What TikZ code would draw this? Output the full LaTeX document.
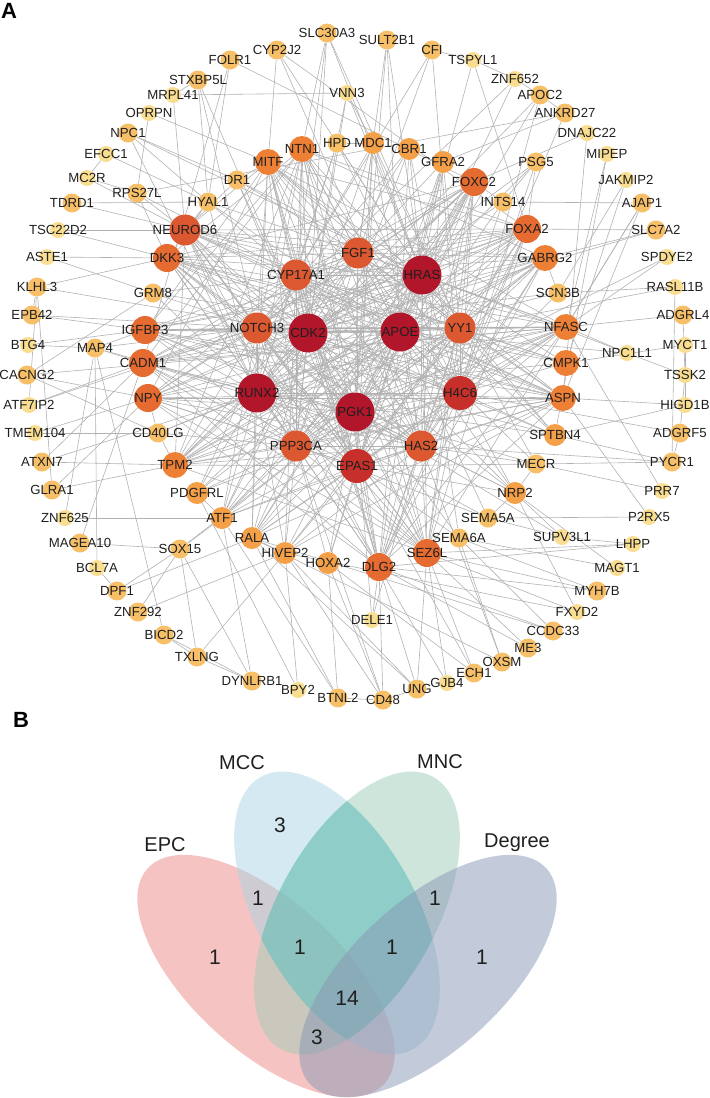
\documentclass[tikz,border=0pt]{standalone}
\usepackage{fontspec}
\setmainfont{Liberation Sans}
\usetikzlibrary{backgrounds}

\definecolor{hubA}{RGB}{178,22,42}
\definecolor{hubB}{RGB}{199,48,42}
\definecolor{hubC}{RGB}{220,88,48}
\definecolor{hubD}{RGB}{230,107,49}
\definecolor{hubE}{RGB}{238,128,54}
\definecolor{hubF}{RGB}{244,160,72}
\definecolor{hubG}{RGB}{247,192,104}
\definecolor{hubH}{RGB}{249,221,144}
\definecolor{epcC}{RGB}{236,138,134}
\definecolor{mccC}{RGB}{169,211,227}
\definecolor{mncC}{RGB}{158,203,185}
\definecolor{degC}{RGB}{136,150,180}
\definecolor{tealC}{RGB}{63,184,176}

\tikzset{
  gene/.style={circle, inner sep=0pt, draw=none},
  lvA/.style={gene, minimum size=19.5pt, fill=hubA},
  lvB/.style={gene, minimum size=17pt, fill=hubB},
  lvC/.style={gene, minimum size=15.5pt, fill=hubC},
  lvD/.style={gene, minimum size=14pt, fill=hubD},
  lvE/.style={gene, minimum size=13pt, fill=hubE},
  lvF/.style={gene, minimum size=11pt, fill=hubF},
  lvG/.style={gene, minimum size=9.5pt, fill=hubG},
  lvH/.style={gene, minimum size=8pt, fill=hubH},
  lbl/.style={font=\fontsize{6.6}{7}\selectfont, text=black!88, inner sep=0pt},
  ppi/.style={draw=black!30, line width=0.3pt},
  venn/.style={draw=none, fill opacity=0.5},
  vlbl/.style={font=\fontsize{10}{12}\selectfont, text=black!88},
  vnum/.style={font=\fontsize{10.5}{12}\selectfont, text=black!88},
  panel/.style={font=\bfseries\fontsize{11}{13}\selectfont}
}
% one gene: style, name, x, y (pixel grid)
\newcommand{\gnode}[4]{\node[#1, label={[lbl]center:#2}] (#2) at (#3,#4) {};}

\begin{document}
\begin{tikzpicture}[x=0.5pt, y=-0.5pt]
\useasboundingbox (0,0) rectangle (709,1098);

\node[panel] (panelA) at (9,11) {A};
\node[panel] (panelB) at (21,720) {B};

% inner hubs
\gnode{lvA}{CDK2}{308}{333}
\gnode{lvA}{APOE}{400}{332}
\gnode{lvA}{HRAS}{422}{275}
\gnode{lvA}{PGK1}{355}{412}
\gnode{lvA}{RUNX2}{257}{393}
\gnode{lvB}{EPAS1}{357}{466}
\gnode{lvB}{H4C6}{460}{393}
\gnode{lvC}{FGF1}{358}{253}
\gnode{lvC}{CYP17A1}{296}{275}
\gnode{lvC}{NOTCH3}{257}{328}
\gnode{lvC}{YY1}{460}{328}
\gnode{lvC}{PPP3CA}{296}{446}
\gnode{lvC}{HAS2}{421}{446}

% middle ring
\gnode{lvC}{NEUROD6}{185}{230}
\gnode{lvD}{DKK3}{167}{258}
\gnode{lvD}{IGFBP3}{145}{330}
\gnode{lvD}{CADM1}{143}{363}
\gnode{lvD}{NPY}{148}{398}
\gnode{lvD}{FOXC2}{474}{182}
\gnode{lvD}{FOXA2}{527}{229}
\gnode{lvD}{DLG2}{379}{567}
\gnode{lvD}{SEZ6L}{427}{553}
\gnode{lvE}{MITF}{268}{162}
\gnode{lvE}{NTN1}{302}{149}
\gnode{lvE}{GABRG2}{545}{258}
\gnode{lvE}{NFASC}{566}{327}
\gnode{lvE}{CMPK1}{566}{363}
\gnode{lvE}{ASPN}{563}{398}
\gnode{lvE}{TPM2}{175}{465}
\gnode{lvF}{MDC1}{373}{143}
\gnode{lvF}{CBR1}{409}{149}
\gnode{lvF}{GFRA2}{443}{162}
\gnode{lvF}{RALA}{252}{538}
\gnode{lvF}{HIVEP2}{285}{553}
\gnode{lvF}{HOXA2}{328}{563}
\gnode{lvF}{PDGFRL}{197}{493}
\gnode{lvF}{ATF1}{222}{518}
\gnode{lvF}{SPTBN4}{555}{435}
\gnode{lvF}{NRP2}{515}{493}
\gnode{lvG}{HPD}{337}{143}
\gnode{lvG}{DR1}{237}{180}
\gnode{lvG}{HYAL1}{208}{202}
\gnode{lvG}{RPS27L}{137}{193}
\gnode{lvG}{GRM8}{153}{293}
\gnode{lvG}{PSG5}{536}{162}
\gnode{lvG}{INTS14}{503}{202}
\gnode{lvG}{SCN3B}{558}{293}
\gnode{lvG}{MECR}{536}{464}
\gnode{lvG}{SEMA5A}{488}{518}
\gnode{lvG}{SEMA6A}{459}{538}
\gnode{lvG}{CD40LG}{158}{433}
\gnode{lvG}{MAP4}{95}{348}
\gnode{lvG}{SOX15}{180}{549}
\gnode{lvH}{VNN3}{347}{93}
\gnode{lvH}{NPC1L1}{627}{353}
\gnode{lvH}{SUPV3L1}{562}{537}
\gnode{lvH}{DELE1}{372}{620}

% outer ring
\gnode{lvG}{FOLR1}{230}{60}
\gnode{lvG}{CYP2J2}{277}{50}
\gnode{lvG}{SLC30A3}{327}{33}
\gnode{lvG}{SULT2B1}{387}{40}
\gnode{lvG}{CFI}{432}{50}
\gnode{lvH}{TSPYL1}{473}{60}
\gnode{lvH}{ZNF652}{515}{79}
\gnode{lvG}{APOC2}{540}{95}
\gnode{lvG}{ANKRD27}{565}{113}
\gnode{lvH}{DNAJC22}{587}{133}
\gnode{lvH}{MIPEP}{607}{154}
\gnode{lvH}{JAKMIP2}{626}{180}
\gnode{lvG}{AJAP1}{642}{203}
\gnode{lvG}{SLC7A2}{656}{230}
\gnode{lvH}{SPDYE2}{667}{257}
\gnode{lvH}{RASL11B}{675}{287}
\gnode{lvG}{ADGRL4}{683}{315}
\gnode{lvH}{MYCT1}{685}{345}
\gnode{lvH}{TSSK2}{685}{375}
\gnode{lvH}{HIGD1B}{685}{405}
\gnode{lvG}{ADGRF5}{680}{433}
\gnode{lvG}{PYCR1}{672}{462}
\gnode{lvH}{PRR7}{662}{491}
\gnode{lvH}{P2RX5}{649}{517}
\gnode{lvH}{LHPP}{633}{544}
\gnode{lvH}{MAGT1}{617}{568}
\gnode{lvG}{MYH7B}{597}{591}
\gnode{lvH}{FXYD2}{577}{612}
\gnode{lvG}{CCDC33}{553}{631}
\gnode{lvG}{ME3}{528}{648}
\gnode{lvG}{OXSM}{502}{662}
\gnode{lvG}{ECH1}{474}{673}
\gnode{lvH}{GJB4}{447}{683}
\gnode{lvG}{UNG}{417}{689}
\gnode{lvG}{CD48}{383}{700}
\gnode{lvG}{BTNL2}{338}{698}
\gnode{lvH}{BPY2}{298}{690}
\gnode{lvG}{DYNLRB1}{252}{681}
\gnode{lvG}{TXLNG}{197}{657}
\gnode{lvG}{BICD2}{164}{635}
\gnode{lvG}{ZNF292}{138}{612}
\gnode{lvG}{DPF1}{117}{591}
\gnode{lvH}{BCL7A}{97}{568}
\gnode{lvG}{MAGEA10}{80}{543}
\gnode{lvH}{ZNF625}{65}{518}
\gnode{lvG}{GLRA1}{52}{490}
\gnode{lvG}{ATXN7}{42}{462}
\gnode{lvH}{TMEM104}{35}{433}
\gnode{lvH}{ATF7IP2}{29}{405}
\gnode{lvG}{CACNG2}{27}{375}
\gnode{lvH}{BTG4}{28}{345}
\gnode{lvG}{EPB42}{32}{315}
\gnode{lvG}{KLHL3}{37}{287}
\gnode{lvH}{ASTE1}{47}{257}
\gnode{lvH}{TSC22D2}{58}{230}
\gnode{lvG}{TDRD1}{72}{203}
\gnode{lvH}{MC2R}{87}{178}
\gnode{lvH}{EFCC1}{106}{154}
\gnode{lvG}{NPC1}{128}{133}
\gnode{lvH}{OPRPN}{149}{113}
\gnode{lvH}{MRPL41}{173}{95}
\gnode{lvG}{STXBP5L}{198}{80}

\begin{scope}[on background layer]
  % hubs all linked to each other
  \foreach \a [count=\i] in {CDK2,APOE,HRAS,PGK1,RUNX2,EPAS1,H4C6,FGF1,CYP17A1,NOTCH3,YY1,PPP3CA,HAS2} {
    \foreach \b [count=\j] in {CDK2,APOE,HRAS,PGK1,RUNX2,EPAS1,H4C6,FGF1,CYP17A1,NOTCH3,YY1,PPP3CA,HAS2} {
      \ifnum\j>\i \draw[ppi] (\a) -- (\b); \fi
    }
  }
  % hubs to the middle ring
  \foreach \a/\bs in {
    CDK2/{MITF,NTN1,MDC1,FOXC2,FOXA2,GABRG2,NFASC,ASPN,SPTBN4,NRP2,SEZ6L,DLG2,HIVEP2,RALA,ATF1,TPM2,NPY,CADM1,IGFBP3,DKK3,NEUROD6,DR1,HPD,PSG5,INTS14,SEMA6A},
    APOE/{MITF,NTN1,CBR1,GFRA2,FOXC2,FOXA2,GABRG2,SCN3B,CMPK1,ASPN,MECR,NRP2,SEMA5A,DLG2,HOXA2,HIVEP2,ATF1,PDGFRL,TPM2,CD40LG,NPY,CADM1,IGFBP3,GRM8,DKK3,NEUROD6,HYAL1},
    HRAS/{VNN3,HPD,MDC1,CBR1,GFRA2,FOXC2,PSG5,FOXA2,NFASC,CMPK1,SPTBN4,SEZ6L,SEMA6A,DLG2,RALA,PDGFRL,NPY,IGFBP3,DKK3,NEUROD6,MITF,DR1},
    PGK1/{NTN1,MDC1,GFRA2,FOXC2,INTS14,GABRG2,NFASC,ASPN,MECR,NRP2,SUPV3L1,SEZ6L,DLG2,DELE1,HOXA2,RALA,SOX15,ATF1,TPM2,NPY,CADM1,IGFBP3,DKK3,NEUROD6},
    RUNX2/{MITF,NTN1,HPD,CBR1,FOXC2,FOXA2,GABRG2,NFASC,CMPK1,ASPN,SPTBN4,SEMA5A,SEZ6L,HIVEP2,RALA,ATF1,PDGFRL,TPM2,CD40LG,CADM1,IGFBP3,GRM8,NEUROD6,HYAL1,MAP4},
    EPAS1/{MITF,MDC1,GFRA2,FOXC2,FOXA2,NFASC,ASPN,MECR,NRP2,SEMA6A,DLG2,HOXA2,HIVEP2,RALA,ATF1,TPM2,NPY,CADM1,DKK3,NEUROD6,DR1},
    H4C6/{NTN1,HPD,CBR1,FOXC2,PSG5,FOXA2,GABRG2,SCN3B,NFASC,CMPK1,SPTBN4,NRP2,SEZ6L,DLG2,RALA,PDGFRL,NPY,IGFBP3,DKK3},
    FGF1/{MITF,NTN1,MDC1,GFRA2,FOXC2,FOXA2,GABRG2,NFASC,ASPN,SPTBN4,SEZ6L,ATF1,TPM2,CADM1,IGFBP3,DKK3,NEUROD6,HYAL1,DR1},
    CYP17A1/{MITF,NTN1,HPD,MDC1,FOXC2,FOXA2,GABRG2,CMPK1,ASPN,NRP2,DLG2,HIVEP2,PDGFRL,NPY,CADM1,GRM8,NEUROD6,HYAL1,RPS27L},
    NOTCH3/{MITF,NTN1,CBR1,FOXC2,FOXA2,NFASC,ASPN,SEZ6L,DLG2,RALA,ATF1,TPM2,NPY,CADM1,IGFBP3,DKK3,NEUROD6,GRM8,MAP4,SCN3B},
    YY1/{MITF,NTN1,MDC1,GFRA2,FOXC2,FOXA2,GABRG2,NFASC,ASPN,CMPK1,SPTBN4,MECR,SEZ6L,DLG2,HIVEP2,TPM2,IGFBP3,DKK3,NEUROD6,INTS14},
    PPP3CA/{MITF,NTN1,FOXC2,FOXA2,GABRG2,NFASC,ASPN,SEMA5A,SEZ6L,DLG2,HOXA2,RALA,ATF1,PDGFRL,TPM2,CD40LG,NPY,CADM1,IGFBP3,DKK3,NEUROD6,CBR1},
    HAS2/{MITF,NTN1,MDC1,FOXC2,FOXA2,GABRG2,NFASC,ASPN,MECR,NRP2,SEZ6L,DLG2,HIVEP2,ATF1,TPM2,NPY,CADM1,IGFBP3,DKK3,NEUROD6,GFRA2}%
  } {\foreach \b in \bs {\draw[ppi] (\a) -- (\b);}}
  % middle ring among itself
  \foreach \a/\bs in {
    NEUROD6/{MITF,FOXA2,GABRG2,NFASC,ASPN,TPM2,SEZ6L,DLG2,RPS27L,DR1,HYAL1},
    DKK3/{FOXC2,FOXA2,NFASC,CMPK1,ASPN,SEZ6L,DLG2,NTN1,RPS27L,HYAL1},
    IGFBP3/{FOXA2,NFASC,ASPN,SPTBN4,GABRG2,NTN1,MITF,MAP4},
    CADM1/{FOXA2,NFASC,GABRG2,SEZ6L,DLG2,NTN1,MAP4},
    NPY/{FOXC2,NFASC,ASPN,DLG2,SEZ6L,MITF,CD40LG},
    FOXA2/{TPM2,SEZ6L,DLG2,MITF,NTN1,PSG5},
    FOXC2/{TPM2,DLG2,SEZ6L,ATF1,RALA,INTS14},
    MITF/{DLG2,SEZ6L,ASPN,NFASC,DR1},
    NTN1/{DLG2,SEZ6L,TPM2,GABRG2},
    GABRG2/{TPM2,DLG2,RALA,SCN3B},
    NFASC/{TPM2,DLG2,ATF1,NPC1L1},
    TPM2/{SEZ6L,ASPN,CD40LG},
    ASPN/{DLG2,RALA,HIVEP2},
    VNN3/{HPD,MDC1,CDK2},
    HPD/{MDC1},
    PDGFRL/{ATF1},
    RALA/{HIVEP2},
    SOX15/{ATF1},
    SUPV3L1/{SEMA5A,NRP2},
    SEMA5A/{NRP2},
    DELE1/{DLG2,HAS2},
    NPC1L1/{HRAS,APOE},
    PSG5/{INTS14},
    MECR/{NRP2}%
  } {\foreach \b in \bs {\draw[ppi] (\a) -- (\b);}}
  % outer ring
  \foreach \a/\bs in {
    FOLR1/{HYAL1,FOXC2,CADM1},
    CYP2J2/{APOE,MITF,FOXA2,HRAS},
    SLC30A3/{HRAS,YY1,NTN1,CYP17A1,CDK2},
    SULT2B1/{HRAS,APOE,PGK1,FGF1},
    CFI/{TSPYL1,FGF1,CYP17A1,H4C6},
    TSPYL1/{ZNF652,APOE,FOXA2},
    ZNF652/{APOC2,HRAS,NOTCH3},
    APOC2/{ANKRD27,APOE,H4C6,CDK2},
    ANKRD27/{RPS27L,GFRA2,HAS2},
    DNAJC22/{ASPN,FOXC2},
    MIPEP/{NFASC,SPTBN4},
    JAKMIP2/{CMPK1,SCN3B},
    AJAP1/{NFASC,ASPN,INTS14,SEZ6L},
    SLC7A2/{GABRG2,CDK2,FOXA2},
    SPDYE2/{NFASC,PGK1},
    RASL11B/{SCN3B,PYCR1,YY1},
    ADGRL4/{TSSK2,NFASC},
    MYCT1/{HIGD1B,CMPK1},
    TSSK2/{ADGRF5,NPC1L1},
    HIGD1B/{ASPN,SPTBN4},
    ADGRF5/{PYCR1,H4C6},
    PYCR1/{SPTBN4,MECR,HAS2},
    PRR7/{MECR,NFASC},
    P2RX5/{ASPN,SEMA5A},
    LHPP/{SEZ6L,SUPV3L1,DLG2},
    MAGT1/{SEMA6A,NRP2},
    MYH7B/{SEZ6L,DLG2,SEMA6A},
    FXYD2/{SEZ6L,HIVEP2,NRP2},
    CCDC33/{SEMA6A,DLG2,RALA},
    ME3/{SEZ6L,DLG2},
    OXSM/{SEMA6A,HAS2,RALA},
    ECH1/{SEZ6L,HOXA2,EPAS1},
    GJB4/{DLG2,SEZ6L},
    UNG/{DLG2,SEZ6L,HIVEP2,CD48,RALA},
    CD48/{DLG2,HIVEP2,HOXA2,PPP3CA},
    BTNL2/{RALA,ATF1,HOXA2,CD48},
    BPY2/{HIVEP2,PDGFRL},
    DYNLRB1/{TXLNG,SOX15,ATF1},
    TXLNG/{BICD2,HIVEP2,SOX15},
    BICD2/{MAP4,DYNLRB1},
    ZNF292/{HIVEP2,SOX15},
    DPF1/{BCL7A,SOX15,RALA},
    BCL7A/{MAP4},
    MAGEA10/{SOX15,CADM1},
    ZNF625/{ATF1,MAP4},
    GLRA1/{NPY,TPM2,KLHL3},
    ATXN7/{TPM2,CADM1,RUNX2},
    TMEM104/{CD40LG,NPY},
    ATF7IP2/{CADM1,NOTCH3},
    CACNG2/{NPY,CD40LG,GRM8,NFASC},
    BTG4/{IGFBP3,MAP4},
    EPB42/{KLHL3,IGFBP3,NOTCH3},
    KLHL3/{DKK3,CDK2,ATF7IP2},
    ASTE1/{DKK3,GRM8},
    TSC22D2/{NEUROD6,DKK3},
    TDRD1/{HYAL1,NEUROD6},
    MC2R/{RPS27L,NEUROD6},
    EFCC1/{MC2R,HYAL1},
    NPC1/{DR1,HYAL1,HRAS,RUNX2},
    OPRPN/{RPS27L,MITF},
    MRPL41/{VNN3,NEUROD6,STXBP5L},
    STXBP5L/{HYAL1,NOTCH3,CDK2}%
  } {\foreach \b in \bs {\draw[ppi] (\a) -- (\b);}}
\end{scope}

% Venn of the four rankings
\begin{scope}[shift={(266,976)}, rotate=-42.3]
  \fill[venn, fill=epcC] (0,0) ellipse [x radius=80pt, y radius=37.5pt];
\end{scope}
\begin{scope}[shift={(337,913)}, rotate=-60.7]
  \fill[venn, fill=mccC] (0,0) ellipse [x radius=78pt, y radius=39.5pt];
\end{scope}
\begin{scope}[shift={(357,913)}, rotate=60.7]
  \fill[venn, fill=mncC] (0,0) ellipse [x radius=78pt, y radius=39.5pt];
\end{scope}
\begin{scope}
  \clip[shift={(337,913)}, rotate=-60.7] (0,0) ellipse [x radius=78pt, y radius=39.5pt];
  \fill[tealC, fill opacity=0.35, shift={(357,913)}, rotate=60.7] (0,0) ellipse [x radius=78pt, y radius=39.5pt];
\end{scope}
\begin{scope}[shift={(428,976)}, rotate=42.3]
  \fill[venn, fill=degC] (0,0) ellipse [x radius=80pt, y radius=37.5pt];
\end{scope}

\node[vlbl] (setMCC) at (242,763) {MCC};
\node[vlbl] (setMNC) at (440,762) {MNC};
\node[vlbl] (setEPC) at (165,845) {EPC};
\node[vlbl] (setDeg) at (517,843) {Degree};

\node[vnum] (nMCC) at (280,825) {3};
\node[vnum] (nEM) at (258,898) {1};
\node[vnum] (nEPC) at (215,957) {1};
\node[vnum] (nEMN) at (300,947) {1};
\node[vnum] (nAll) at (347,998) {14};
\node[vnum] (nEND) at (317,1037) {3};
\node[vnum] (nND) at (435,898) {1};
\node[vnum] (nMND) at (392,947) {1};
\node[vnum] (nDeg) at (482,957) {1};
\end{tikzpicture}
\end{document}
